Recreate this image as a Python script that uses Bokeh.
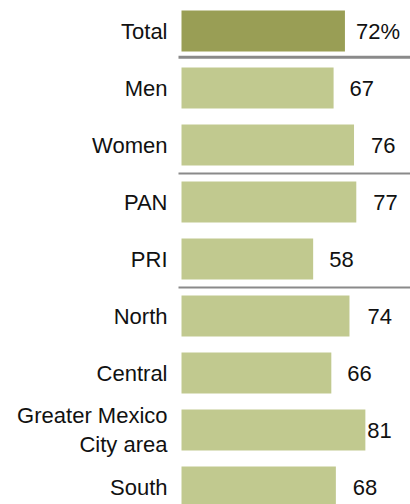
from bokeh.plotting import figure
from bokeh.models import ColumnDataSource, Range1d
from bokeh.core.properties import value
from bokeh.embed import file_html
from bokeh.resources import INLINE

categories = ["Total", "Men", "Women", "PAN", "PRI", "North", "Central",
              "Greater Mexico\nCity area", "South"]
values = [72, 67, 76, 77, 58, 74, 66, 81, 68]
value_labels = ["72%", "67", "76", "77", "58", "74", "66", "81", "68"]

# styling (not data)
bar_colors = ["#999e55"] + ["#c1c98f"] * 8
label_pad = [11, 16, 17, 17, 16, 18, 16, 2, 17]

rows = list(range(len(categories)))
src = ColumnDataSource(dict(y=rows, v=values, cat=categories, lab=value_labels,
                            col=bar_colors, pad=label_pad,
                            zero=[0] * len(rows)))

px_per_unit = 2.27
x0_px = 181
p = figure(width=410, height=504, output_backend="svg", toolbar_location=None,
           min_border=0, outline_line_color=None,
           x_range=Range1d(-x0_px / px_per_unit, (410 - x0_px) / px_per_unit),
           y_range=Range1d((504 - 30.5) / 57, -30.5 / 57))
p.axis.visible = False
p.grid.visible = False
p.background_fill_color = "white"
p.border_fill_color = "white"

p.hbar(y="y", left=0, right="v", height=0.72, fill_color="col",
       line_color=None, source=src)

font = value("Liberation Sans")
p.text(x="zero", y="y", text="cat", x_offset=-14, text_align="right",
       text_baseline="middle", text_font=font, text_font_size="22px",
       text_color="#111111", text_line_height=1.15, source=src)
p.text(x="v", y="y", text="lab", x_offset="pad", text_align="left",
       text_baseline="middle", text_font=font, text_font_size="22px",
       text_color="#111111", source=src)

# group separators
sep_x_start = -3 / px_per_unit
p.segment(x0=[sep_x_start], x1=[200], y0=[0.46], y1=[0.46],
          line_color="#8a8a8a", line_width=3)
p.segment(x0=[sep_x_start] * 2, x1=[200] * 2, y0=[2.5, 4.5], y1=[2.5, 4.5],
          line_color="#8a8a8a", line_width=2)

open("out.html", "w").write(file_html(p, INLINE))
